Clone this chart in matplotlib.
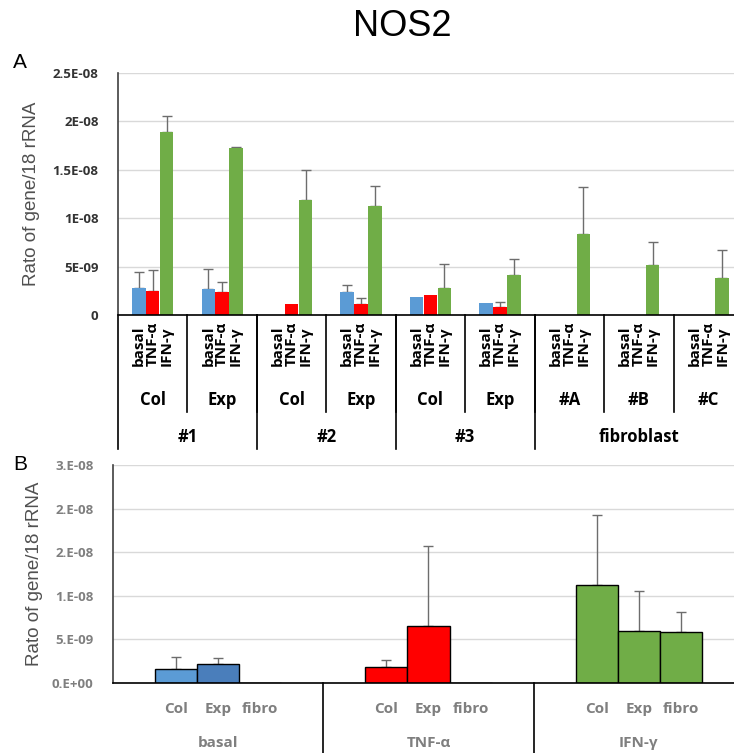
import matplotlib.pyplot as plt
import matplotlib.transforms as mtransforms
import numpy as np

plt.rcParams['font.family'] = ['Liberation Sans', 'DejaVu Sans']

# ---- panel A data (values in units of 1e-9) ----
subgroups = ["Col", "Exp", "Col", "Exp", "Col", "Exp", "#A", "#B", "#C"]
groups = ["#1", "#2", "#3", "fibroblast"]
group_span = [(0, 1), (2, 3), (4, 5), (6, 8)]
treatments = ["basal", "TNF-α", "IFN-γ"]

basal_mean = [2.80, 2.72, 0.0, 2.34, 1.82, 1.20, 0.0, 0.0, 0.0]
basal_err = [1.60, 2.03, 0.0, 0.72, 0.0, 0.0, 0.0, 0.0, 0.0]
tnf_mean = [2.44, 2.34, 1.10, 1.13, 2.10, 0.86, 0.0, 0.0, 0.0]
tnf_err = [2.26, 1.06, 0.0, 0.59, 0.0, 0.44, 0.0, 0.0, 0.0]
ifn_mean = [18.95, 17.26, 11.86, 11.24, 2.82, 4.13, 8.32, 5.12, 3.78]
ifn_err = [1.65, 0.07, 3.17, 2.06, 2.41, 1.67, 4.95, 2.41, 2.89]

a_ticks = [0, 5, 10, 15, 20, 25]
a_ticklabels = ["0", "5E-09", "1E-08", "1.5E-08", "2E-08", "2.5E-08"]

# ---- panel B data (values in units of 1e-9) ----
b_groups = ["basal", "TNF-α", "IFN-γ"]
b_sources = ["Col", "Exp", "fibro"]
col_mean = [1.64, 1.87, 11.28]
col_err = [1.34, 0.73, 8.00]
exp_mean = [2.18, 6.50, 6.00]
exp_err = [0.69, 9.25, 4.60]
fibro_mean = [0.0, 0.0, 5.85]
fibro_err = [0.0, 0.0, 2.29]

b_ticks = [0, 5, 10, 15, 20, 25]
b_ticklabels = ["0.E+00", "5.E-09", "1.E-08", "2.E-08", "2.E-08", "3.E-08"]

blue = "#5B9BD5"
blue_dark = "#4A7EBB"
red = "#FF0000"
green = "#70AD47"
err_color = "#6d6d6d"
grid_color = "#d9d9d9"

W, H = 734, 753
fig = plt.figure(figsize=(W / 100, H / 100), dpi=100)


def px_axes(left, top, right, bottom):
    return fig.add_axes([left / W, 1 - bottom / H, (right - left) / W, (bottom - top) / H])


def draw_err(ax, x, mean, err):
    x = np.asarray(x, float)
    mean = np.asarray(mean, float)
    err = np.asarray(err, float)
    m = err > 0
    ax.errorbar(x[m], mean[m], yerr=[np.zeros(m.sum()), err[m]], fmt="none",
                ecolor=err_color, elinewidth=1, capsize=3.5, capthick=1, zorder=1)


def below(ax, x, px, s, **kw):
    ax.annotate(s, xy=(x, 0), xycoords=("data", "axes fraction"),
                xytext=(0, -px), textcoords="offset pixels",
                annotation_clip=False, **kw)


def vline(ax, x, px, color="black", lw=1.2):
    h = ax.get_position().height * H
    tr = mtransforms.blended_transform_factory(ax.transData, ax.transAxes)
    ax.plot([x, x], [0, -px / h], color=color, lw=lw, transform=tr, clip_on=False)


# ---------------- panel A ----------------
axA = px_axes(118, 73, 743, 315)
x = np.arange(len(subgroups))
bw = 0.195
axA.bar(x - 0.2, basal_mean, bw, color=blue, zorder=2)
axA.bar(x, tnf_mean, bw, color=red, zorder=2)
axA.bar(x + 0.2, ifn_mean, bw, color=green, zorder=2)
draw_err(axA, x - 0.2, basal_mean, basal_err)
draw_err(axA, x, tnf_mean, tnf_err)
draw_err(axA, x + 0.2, ifn_mean, ifn_err)

axA.set_xlim(-0.5, len(subgroups) - 0.5)
axA.set_ylim(0, 25)
axA.set_yticks(a_ticks)
axA.set_yticklabels(a_ticklabels, family="Open Sans", fontweight="bold",
                    fontsize=9.5, color="#333333")
axA.tick_params(axis="y", length=0, pad=14)
axA.set_xticks([])
axA.yaxis.grid(True, color=grid_color, lw=1)
axA.set_axisbelow(True)
for s in ["top", "right"]:
    axA.spines[s].set_visible(False)
axA.spines["left"].set_color("#404040")
axA.spines["left"].set_linewidth(1.2)
axA.spines["bottom"].set_linewidth(1.2)
axA.set_ylabel("Rato of gene/18 rRNA", fontsize=13.5, color="#505050", labelpad=9)

for i, sg in enumerate(subgroups):
    for j, t in enumerate(treatments):
        below(axA, i + (j - 1) * 0.2, 51, t, rotation=90, ha="center", va="bottom",
              family="Open Sans", fontweight="bold", fontsize=11)
    below(axA, i, 85, sg, ha="center", va="center", family="Open Sans",
          fontweight="bold", fontsize=12)
for i in range(1, len(subgroups)):
    vline(axA, i - 0.5, 97)
for g, (a, b) in zip(groups, group_span):
    below(axA, (a + b) / 2, 122, g, ha="center", va="center", family="Open Sans",
          fontweight="bold", fontsize=12)
    vline(axA, a - 0.5, 134)

# ---------------- panel B ----------------
axB = px_axes(113, 465, 744, 683)
xb = np.arange(len(b_groups))
bwb = 0.2
axB.bar(xb - 0.2, col_mean, bwb, color=[blue, red, green], edgecolor="black", lw=1, zorder=2)
axB.bar(xb, exp_mean, bwb, color=[blue_dark, red, green], edgecolor="black", lw=1, zorder=2)
axB.bar(xb + 0.2, fibro_mean, bwb, color=[blue, red, green], edgecolor="black", lw=1, zorder=2)
draw_err(axB, xb - 0.2, col_mean, col_err)
draw_err(axB, xb, exp_mean, exp_err)
draw_err(axB, xb + 0.2, fibro_mean, fibro_err)

axB.set_xlim(-0.5, len(b_groups) - 0.5)
axB.set_ylim(0, 25)
axB.set_yticks(b_ticks)
axB.set_yticklabels(b_ticklabels, family="Open Sans", fontweight="bold",
                    fontsize=9.5, color="#7f7f7f")
axB.tick_params(axis="y", length=0, pad=14)
axB.set_xticks([])
axB.yaxis.grid(True, color=grid_color, lw=1)
axB.set_axisbelow(True)
for s in ["top", "right"]:
    axB.spines[s].set_visible(False)
axB.spines["left"].set_color("#404040")
axB.spines["left"].set_linewidth(1.2)
axB.spines["bottom"].set_linewidth(1.2)
axB.set_ylabel("Rato of gene/18 rRNA", fontsize=13.5, color="#505050", labelpad=6)

for i, g in enumerate(b_groups):
    for j, s in enumerate(b_sources):
        below(axB, i + (j - 1) * 0.2, 26, s, ha="center", va="center", family="Open Sans",
              fontweight="bold", fontsize=11, color="#7f7f7f")
    below(axB, i, 60, g, ha="center", va="center", family="Open Sans",
          fontweight="bold", fontsize=11, color="#7f7f7f")
    if i > 0:
        vline(axB, i - 0.5, 75)

# titles and panel letters
fig.text(402 / W, 1 - 26 / H, "NOS2", fontsize=26, ha="center", va="center")
fig.text(13 / W, 1 - 62 / H, "A", fontsize=15, ha="left", va="center")
fig.text(13 / W, 1 - 465 / H, "B", fontsize=15, ha="left", va="center")

fig.savefig("out.png", dpi=100)
